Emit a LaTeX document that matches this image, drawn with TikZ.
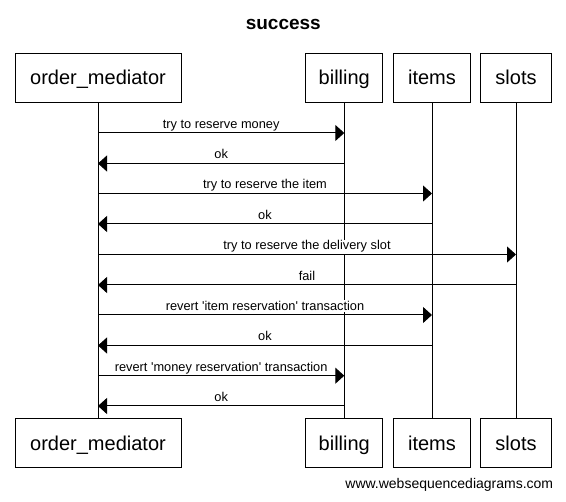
\documentclass[tikz,border=0pt]{standalone}
\usepackage{fontspec}
\setmainfont{Liberation Sans}
\usetikzlibrary{arrows.meta}
\tikzset{actor/.style={draw,line width=1pt,minimum height=49pt,inner sep=0pt,font=\fontsize{20}{24}\selectfont,text height=14.6pt,text depth=0pt},life/.style={line width=1pt},call/.style={line width=1pt,-{Triangle[length=9pt,width=16pt]}},msg/.style={anchor=base,yshift=4.5pt,fill=white,inner sep=1pt,font=\fontsize{12.8}{14}\selectfont}}

\begin{document}
\begin{tikzpicture}[x=1pt,y=-1pt]
			\useasboundingbox (0,0) rectangle (566,502);
			\node[font=\bfseries\fontsize{19}{22}\selectfont,anchor=base] (title) at (283.3,30) {success};
			% participants, top row
			\node[actor,minimum width=166pt] (om) at (98,77.7) {order\_mediator};
			\node[actor,minimum width=77pt] (bill) at (344.3,77.7) {billing};
			\node[actor,minimum width=77pt] (items) at (432,77.7) {items};
			\node[actor,minimum width=71.4pt] (slots) at (516,77.7) {slots};
			% participants, bottom row
			\node[actor,minimum width=166pt] (om2) at (98,443.5) {order\_mediator};
			\node[actor,minimum width=77pt] (bill2) at (344.3,443.5) {billing};
			\node[actor,minimum width=77pt] (items2) at (432,443.5) {items};
			\node[actor,minimum width=71.4pt] (slots2) at (516,443.5) {slots};
			\draw[life] (om.south) -- (om2.north);
			\draw[life] (bill.south) -- (bill2.north);
			\draw[life] (items.south) -- (items2.north);
			\draw[life] (slots.south) -- (slots2.north);
			% messages
			\draw[call] (om |- 0,133) -- node[msg] {try to reserve money} (bill |- 0,133);
			\draw[call] (bill |- 0,163.5) -- node[msg] {ok} (om |- 0,163.5);
			\draw[call] (om |- 0,193.5) -- node[msg] {try to reserve the item} (items |- 0,193.5);
			\draw[call] (items |- 0,224) -- node[msg] {ok} (om |- 0,224);
			\draw[call] (om |- 0,254.5) -- node[msg] {try to reserve the delivery slot} (slots |- 0,254.5);
			\draw[call] (slots |- 0,285) -- node[msg] {fail} (om |- 0,285);
			\draw[call] (om |- 0,315) -- node[msg] {revert \textquotesingle item reservation\textquotesingle{} transaction} (items |- 0,315);
			\draw[call] (items |- 0,345.5) -- node[msg] {ok} (om |- 0,345.5);
			\draw[call] (om |- 0,375.7) -- node[msg] {revert \textquotesingle money reservation\textquotesingle{} transaction} (bill |- 0,375.7);
			\draw[call] (bill |- 0,406) -- node[msg] {ok} (om |- 0,406);
			\node[anchor=base east,font=\fontsize{14}{16}\selectfont] (credit) at (556.7,488.3) {www.websequencediagrams.com};
		\end{tikzpicture}
\end{document}
